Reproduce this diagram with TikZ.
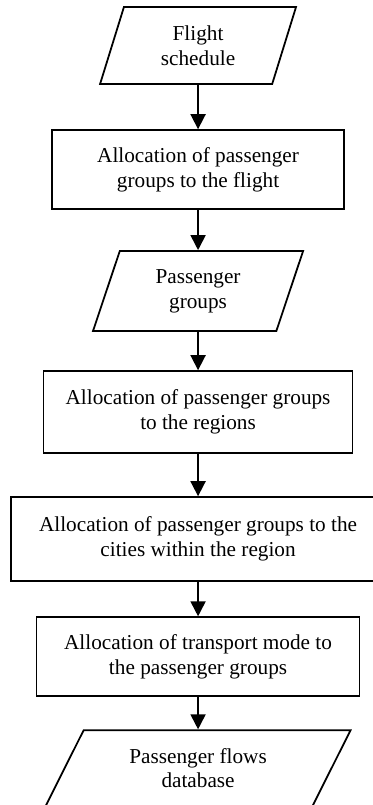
\documentclass[tikz,border=0pt]{standalone}
\usepackage{fontspec}
\setmainfont{Liberation Serif}
\usepackage{tikz}
\usetikzlibrary{shapes.geometric,arrows.meta}

\begin{document}
\begin{tikzpicture}[node distance=2.5cm,auto,>={Triangle[length=8.5pt,width=8.5pt]},
    every node/.style={font=\fontsize{12}{14}\selectfont,align=center},
    proc/.style={draw,line width=1pt,rectangle,inner sep=2pt},
    data/.style={draw,line width=1pt,trapezium,trapezium stretches body,inner sep=2pt},
    every edge/.style={draw,line width=1pt}]
    % page frame
    \useasboundingbox (0,0) rectangle (210.7pt,-454.8pt);
    % input data
    \node[data,trapezium left angle=63,trapezium right angle=117,
          minimum width=110.7pt,minimum height=43.5pt] (sched) at (111.9pt,-25.7pt) {Flight\\schedule};
    % processing steps
    \node[proc,minimum width=165pt,minimum height=44.6pt] (toflight) [below of=sched, node distance=70.1pt]
        {Allocation of passenger\\groups to the flight};
    \node[data,trapezium left angle=62,trapezium right angle=118,
          minimum width=118.7pt,minimum height=45.2pt] (groups) [below of=toflight, node distance=68.6pt]
        {Passenger\\groups};
    \node[proc,minimum width=174.6pt,minimum height=46.3pt] (toregion) [below of=groups, node distance=68.4pt]
        {Allocation of passenger groups\\to the regions};
    \node[proc,minimum width=211.3pt,minimum height=47.5pt] (tocity) [below of=toregion, node distance=71.8pt]
        {Allocation of passenger groups to the\\cities within the region};
    \node[proc,minimum width=182.5pt,minimum height=44.6pt] (tomode) [below of=tocity, node distance=66.4pt]
        {Allocation of transport mode to\\the passenger groups};
    % output data
    \node[data,trapezium left angle=51,trapezium right angle=129,
          minimum width=172.3pt,minimum height=42.9pt] (flows) [below of=tomode, node distance=63pt]
        {Passenger flows\\database};
    % flow arrows
    \path[->] (sched) edge node {} (toflight);
    \path[->] (toflight) edge node {} (groups);
    \path[->] (groups) edge node {} (toregion);
    \path[->] (toregion) edge node {} (tocity);
    \path[->] (tocity) edge node {} (tomode);
    \path[->] (tomode) edge node {} (flows);
\end{tikzpicture}
\end{document}
